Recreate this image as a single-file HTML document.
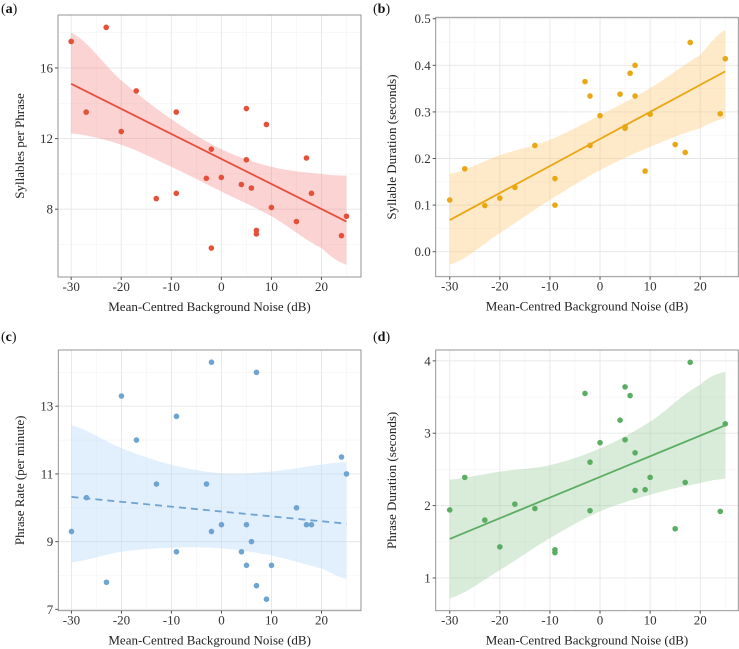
<!DOCTYPE html>
<html><head><meta charset="utf-8"><style>
html,body{margin:0;padding:0;background:#fff;}
svg{display:block;}
svg text{font-family:"Liberation Serif","DejaVu Serif",serif;}
</style></head><body>
<svg id="fig" width="739" height="649" viewBox="0 0 739 649" font-family="Liberation Serif, serif"></svg>
<script>
const xNoise = [-30,-27,-23,-20,-17,-13,-9,-9,-3,-2,-2,0,4,5,5,6,7,7,9,10,15,17,18,24,25];
const ySyll = [17.5,13.5,18.3,12.4,14.7,8.6,13.5,8.9,9.75,11.4,5.8,9.8,9.4,13.7,10.8,9.2,6.8,6.6,12.8,8.1,7.3,10.9,8.9,6.5,7.6];
const yDurSyl = [0.111,0.178,0.099,0.115,0.138,0.228,0.157,0.100,0.365,0.334,0.228,0.292,0.338,0.268,0.265,0.383,0.400,0.334,0.173,0.295,0.230,0.213,0.449,0.296,0.414];
const yRate = [9.3,10.3,7.8,13.3,12.0,10.7,12.7,8.7,10.7,14.3,9.3,9.5,8.7,9.5,8.3,9.0,14.0,7.7,7.3,8.3,10.0,9.5,9.5,11.5,11.0];
const yDurPhr = [1.94,2.39,1.80,1.43,2.02,1.96,1.39,1.35,3.55,2.60,1.93,2.87,3.18,3.64,2.91,3.52,2.73,2.21,2.22,2.39,1.68,2.32,3.98,1.92,3.13];
const fitX = [-30,-20,-10,0,10,20,25];
const fitEndsA = [15.1,7.3];
const ciUpA = [18.0,15.3,13.1,11.4,10.4,10.0,9.9];
const ciLoA = [12.3,11.65,10.4,9.0,7.6,5.8,4.85];
const fitEndsB = [0.068,0.387];
const ciUpB = [0.167,0.207,0.240,0.293,0.351,0.422,0.476];
const ciLoB = [-0.028,0.040,0.111,0.175,0.225,0.265,0.286];
const fitEndsC = [10.32,9.53];
const ciUpC = [12.43,11.76,11.27,11.02,11.07,11.27,11.35];
const ciLoC = [8.39,8.70,8.82,8.80,8.59,8.21,7.90];
const fitEndsD = [1.54,3.11];
const ciUpD = [2.36,2.47,2.56,2.79,3.16,3.67,3.85];
const ciLoD = [0.72,1.11,1.55,1.92,2.15,2.31,2.37];
const xTicks = [-30,-20,-10,0,10,20];
const yTicksA = [8,12,16];
const yTicksB = [0.0,0.1,0.2,0.3,0.4,0.5];
const yTicksC = [7,9,11,13];
const yTicksD = [1,2,3,4];

const NS="http://www.w3.org/2000/svg";
const svg=document.getElementById('fig');
function mk(tag,attrs,parent){const e=document.createElementNS(NS,tag);for(const k in attrs)e.setAttribute(k,attrs[k]);(parent||svg).appendChild(e);return e;}
function interp(xs,ys,x){
  let i=0;while(i<xs.length-2&&x>xs[i+1])i++;
  const p0=ys[Math.max(i-1,0)],p1=ys[i],p2=ys[i+1],p3=ys[Math.min(i+2,ys.length-1)];
  const t=(x-xs[i])/(xs[i+1]-xs[i]);
  return 0.5*((2*p1)+(-p0+p2)*t+(2*p0-5*p1+4*p2-p3)*t*t+(-p0+3*p1-3*p2+p3)*t*t*t);
}
const FF="Liberation Serif, serif";
function panel(o){
  const g=mk('g',{});
  
  
  const X=v=>o.L+(v-o.xmin)/(o.xmax-o.xmin)*(o.R-o.L);
  const Y=v=>o.B-(v-o.ymin)/(o.ymax-o.ymin)*(o.B-o.T);
  [-35,-25,-15,-5,5,15,25].forEach(m=>{if(X(m)>o.L&&X(m)<o.R)mk('line',{x1:X(m),x2:X(m),y1:o.T,y2:o.B,stroke:'#f3f3f3','stroke-width':0.6},g);});
  const ts=o.yt; const step=ts[1]-ts[0];
  for(let v=ts[0]-step/2;v<=ts[ts.length-1]+step;v+=step){if(Y(v)>o.T&&Y(v)<o.B)mk('line',{x1:o.L,x2:o.R,y1:Y(v),y2:Y(v),stroke:'#f3f3f3','stroke-width':0.6},g);}
  xTicks.forEach(v=>mk('line',{x1:X(v),x2:X(v),y1:o.T,y2:o.B,stroke:'#e6e6e6','stroke-width':0.9},g));
  ts.forEach(v=>mk('line',{x1:o.L,x2:o.R,y1:Y(v),y2:Y(v),stroke:'#e6e6e6','stroke-width':0.9},g));
  const x0=fitX[0],x1=fitX[fitX.length-1];
  let up=[],lo=[];
  for(let k=0;k<=110;k++){const xv=x0+(x1-x0)*k/110;
    up.push(X(xv).toFixed(2)+','+Y(interp(fitX,o.up,xv)).toFixed(2));
    lo.unshift(X(xv).toFixed(2)+','+Y(interp(fitX,o.lo,xv)).toFixed(2));}
  const band=mk('polygon',{points:up.concat(lo).join(' '),fill:o.band},g);
  
  
  const ln=mk('line',{x1:X(x0),y1:Y(o.fit[0]),x2:X(x1),y2:Y(o.fit[1]),stroke:o.col,'stroke-width':1.8},g);
  if(o.dash)ln.setAttribute('stroke-dasharray','7,5');
  
  
  for(let i=0;i<o.x.length;i++){const c=mk('circle',{cx:X(o.x[i]),cy:Y(o.y[i]),r:2.8,fill:o.col},g);
    
    }
  mk('rect',{x:o.L,y:o.T,width:o.R-o.L,height:o.B-o.T,fill:'none',stroke:'#8a8a8a','stroke-width':0.9},g);
  xTicks.forEach(v=>{mk('line',{x1:X(v),x2:X(v),y1:o.B,y2:o.B+3,stroke:'#555'},g);
    const tx=mk('text',{x:X(v),y:o.B+14,'text-anchor':'middle','font-size':13,fill:'#333','font-family':FF},g);tx.textContent=v;
    
    });
  ts.forEach(v=>{mk('line',{x1:o.L-3,x2:o.L,y1:Y(v),y2:Y(v),stroke:'#555'},g);
    const tx=mk('text',{x:o.L-5,y:Y(v)+4.5,'text-anchor':'end','font-size':13,fill:'#333','font-family':FF},g);tx.textContent=o.fmt(v);
    
    });
  const xt=mk('text',{x:(o.L+o.R)/2,y:o.B+34,'text-anchor':'middle','font-size':13,fill:'#222','font-family':FF},g);xt.textContent='Mean-Centred Background Noise (dB)';
  
  
  const cy=(o.T+o.B)/2;
  const yt=mk('text',{x:o.ytx,y:cy,'text-anchor':'middle','font-size':13,fill:'#222','font-family':FF,transform:`rotate(-90 ${o.ytx} ${cy})`},g);yt.textContent=o.ytitle;
  
  
  const lb=mk('text',{x:o.lx,y:o.ly,'font-size':14,fill:'#111','font-family':FF},g);lb.innerHTML='(<tspan font-weight="bold">'+o.id+'</tspan>)';
  
  
}
const xr={xmin:-32.63,xmax:27.9};
const xr2={xmin:-32.8,xmax:27.6};
panel(Object.assign({id:'a',L:58,R:361,T:15,B:277,ymin:4.16,ymax:19.0,x:xNoise,y:ySyll,fit:fitEndsA,up:ciUpA,lo:ciLoA,yt:yTicksA,fmt:v=>v,col:'#E4503A',band:'rgba(242,130,125,0.35)',ytitle:'Syllables per Phrase',ytx:24,lx:1,ly:13},xr));
panel(Object.assign({id:'b',L:435.7,R:738.3,T:17.3,B:276.7,ymin:-0.0536,ymax:0.503,x:xNoise,y:yDurSyl,fit:fitEndsB,up:ciUpB,lo:ciLoB,yt:yTicksB,fmt:v=>v.toFixed(1),col:'#E9A714',band:'rgba(252,200,120,0.4)',ytitle:'Syllable Duration (seconds)',ytx:396,lx:373,ly:13},xr2));
panel(Object.assign({id:'c',L:58.3,R:361,T:350,B:610.7,ymin:6.96,ymax:14.66,x:xNoise,y:yRate,fit:fitEndsC,up:ciUpC,lo:ciLoC,dash:true,yt:yTicksC,fmt:v=>v,col:'#6FA3D2',band:'rgba(190,220,248,0.45)',ytitle:'Phrase Rate (per minute)',ytx:24,lx:1,ly:341},xr));
panel(Object.assign({id:'d',L:435.7,R:738.3,T:350,B:610.7,ymin:0.548,ymax:4.15,x:xNoise,y:yDurPhr,fit:fitEndsD,up:ciUpD,lo:ciLoD,yt:yTicksD,fmt:v=>v,col:'#5BAD63',band:'rgba(160,205,160,0.4)',ytitle:'Phrase Duration (seconds)',ytx:396,lx:373,ly:341},xr2));
</script>
</body></html>
